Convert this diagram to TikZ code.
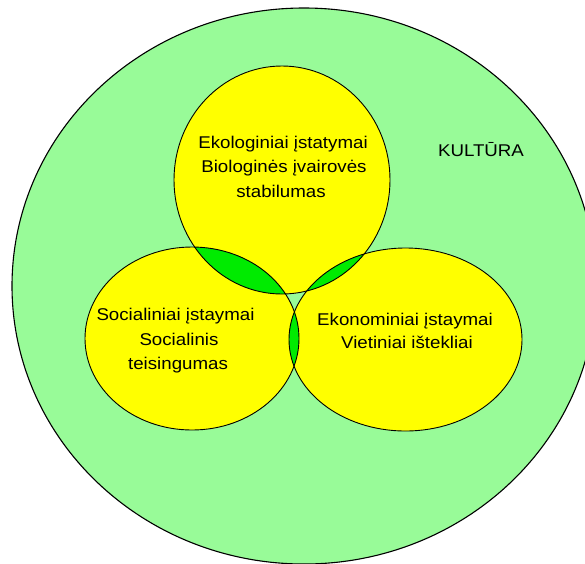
\documentclass[tikz,border=0pt]{standalone}
\usepackage{fontspec}
\setmainfont{Liberation Sans}[FakeStretch=1.1]
\definecolor{outergreen}{RGB}{152,251,152}
\definecolor{lensgreen}{RGB}{0,235,0}
\definecolor{bigyellow}{RGB}{255,255,0}
\tikzset{
  outline/.style={draw=black, line width=0.9pt},
  lbl/.style={anchor=base, inner sep=0pt, font=\fontsize{17}{24.5}\selectfont, text=black},
}
\begin{document}
\begin{tikzpicture}[x=1pt,y=-1pt]
\useasboundingbox (0,0) rectangle (585,563);
\fill[white] (0,0) rectangle (585,563);
\begin{scope}
\clip (0,0) rectangle (585,563);
\filldraw[fill=outergreen, outline, line width=1.1pt] (304,286) ellipse [x radius=292pt, y radius=278pt];
\end{scope}
% yellow circles
\fill[bigyellow] (282,180) ellipse [x radius=108pt, y radius=114pt];
\fill[bigyellow] (192,338.5) ellipse [x radius=107pt, y radius=91.5pt];
\fill[bigyellow] (405.5,339.5) ellipse [x radius=116.5pt, y radius=91.5pt];
% lenses
\begin{scope}
\clip (282,180) ellipse [x radius=108pt, y radius=114pt];
\fill[lensgreen] (192,338.5) ellipse [x radius=107pt, y radius=91.5pt];
\fill[lensgreen] (405.5,339.5) ellipse [x radius=116.5pt, y radius=91.5pt];
\end{scope}
\begin{scope}
\clip (192,338.5) ellipse [x radius=107pt, y radius=91.5pt];
\fill[lensgreen] (405.5,339.5) ellipse [x radius=116.5pt, y radius=91.5pt];
\end{scope}
% outlines
\draw[outline] (282,180) ellipse [x radius=108pt, y radius=114pt];
\draw[outline] (192,338.5) ellipse [x radius=107pt, y radius=91.5pt];
\draw[outline] (405.5,339.5) ellipse [x radius=116.5pt, y radius=91.5pt];
% texts
\node[lbl] (eco1) at (283,148) {Ekologiniai įstatymai};
\node[lbl] (eco2) at (284,172.5) {Biologinės įvairovės};
\node[lbl] (eco3) at (281,197) {stabilumas};
\node[lbl] (soc1) at (175.5,320.5) {Socialiniai įstaymai};
\node[lbl] (soc2) at (179,345) {Socialinis};
\node[lbl] (soc3) at (178,369.5) {teisingumas};
\node[lbl] (ekon1) at (405,325) {Ekonominiai įstaymai};
\node[lbl] (ekon2) at (407,348.5) {Vietiniai ištekliai};
\node[lbl] (kult) at (481,156) {KULTŪRA};
\end{tikzpicture}
\end{document}
